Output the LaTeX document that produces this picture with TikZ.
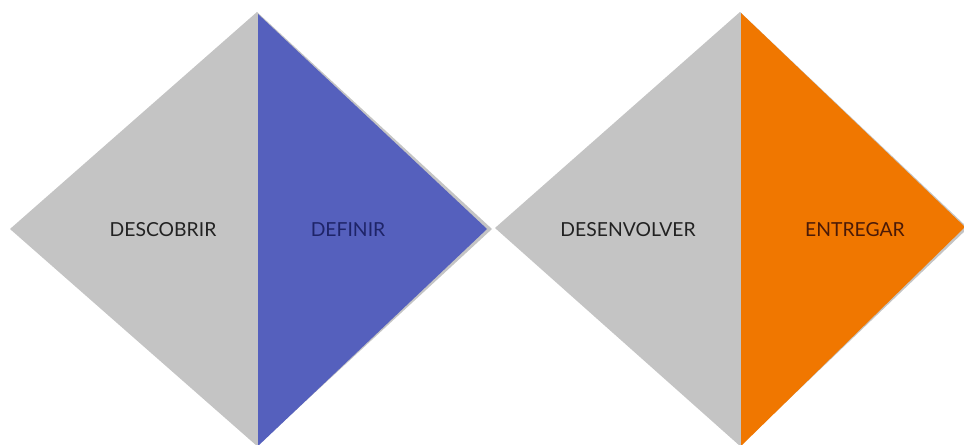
\documentclass[tikz,border=0pt]{standalone}
\usepackage{fontspec}
\setmainfont{Lato}
\definecolor{dgray}{HTML}{C4C4C4}
\definecolor{dblue}{HTML}{5560BD}
\definecolor{dorange}{HTML}{F07700}
\definecolor{tdark}{HTML}{222222}
\definecolor{tblue}{HTML}{1E2468}
\definecolor{tbrown}{HTML}{4A1A08}
\begin{document}
\begin{tikzpicture}[x=0.75pt,y=-0.75pt,
  lab/.style={font=\fontsize{14.5}{16}\selectfont, inner sep=0pt, anchor=center}]
\useasboundingbox (0,0) rectangle (964,445);
\fill[white] (0,0) rectangle (964,445);
% left diamond
\fill[dgray] (257,12) -- (10,229) -- (257,446) -- (492,229) -- cycle;
\fill[dblue] (258,14) -- (487,229) -- (258,446) -- cycle;
% right diamond
\fill[dgray] (740,12) -- (495,228) -- (740,446) -- (968,228) -- cycle;
\fill[dorange] (741,13) -- (965,227) -- (741,446) -- cycle;
% labels
\node[lab, text=tdark] (descobrir) at (163,230) {DESCOBRIR};
\node[lab, text=tblue] (definir) at (348,230) {DEFINIR};
\node[lab, text=tdark] (desenvolver) at (628,230) {DESENVOLVER};
\node[lab, text=tbrown] (entregar) at (855,230) {ENTREGAR};
\end{tikzpicture}
\end{document}
